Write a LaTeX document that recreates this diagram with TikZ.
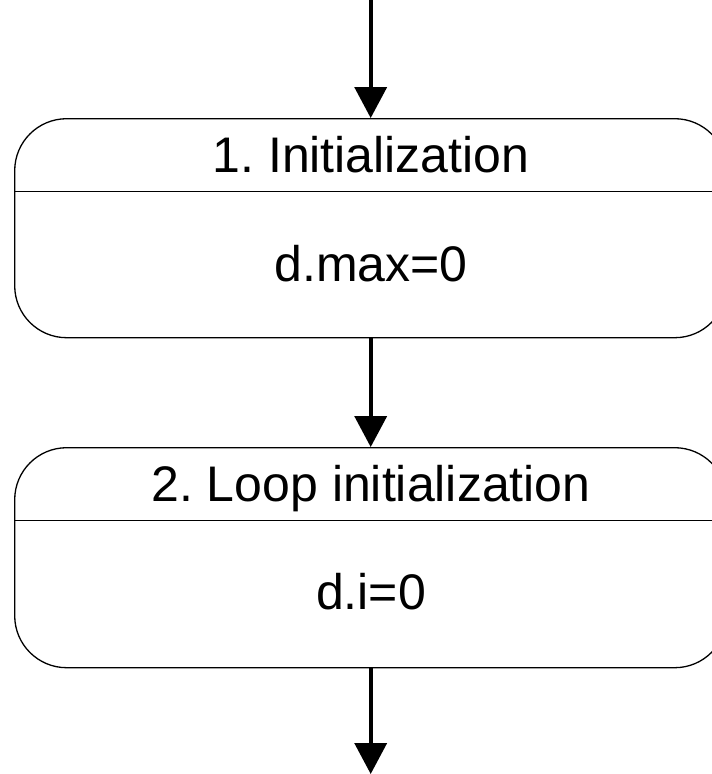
\documentclass[tikz,border=0pt]{standalone}
\usepackage{fontspec}
\setmainfont{Liberation Sans}
\usetikzlibrary{arrows.meta}
\frenchspacing
\begin{document}
\begin{tikzpicture}[x=1pt,y=-1pt,
  statebox/.style={draw, line width=1.3pt, rounded corners=52pt, minimum width=712pt, inner sep=0pt},
  txt/.style={font=\fontsize{50}{60}\selectfont, anchor=base, inner sep=0pt},
  flow/.style={line width=3.7pt, -{Triangle[length=31pt,width=32pt]}}]
\useasboundingbox (0,0) rectangle (712,774);
\clip (0,0) rectangle (712,774);
% boxes
\node[statebox, minimum height=219pt] (b1) at (370.7,228.2) {};
\node[statebox, minimum height=220pt] (b2) at (370.7,557.7) {};
% dividers
\coordinate (d1) at (0,191.7);
\coordinate (d2) at (0,520.5);
\draw[line width=1.3pt] (b1.west |- d1) -- (b1.east |- d1);
\draw[line width=1.3pt] (b2.west |- d2) -- (b2.east |- d2);
% texts
\node[txt] (t1) at (371,172) {1. Initialization};
\node[txt] (v1) at (371,281.5) {d.max=0};
\node[txt] (t2) at (371,501) {2. Loop initialization};
\node[txt] (v2) at (371,609) {d.i=0};
% connectors
\coordinate (start) at (370.7,0);
\coordinate (end) at (370.7,774);
\draw[flow] (start) -- (b1);
\draw[flow] (b1) -- (b2);
\draw[flow] (b2) -- (end);
\end{tikzpicture}
\end{document}
